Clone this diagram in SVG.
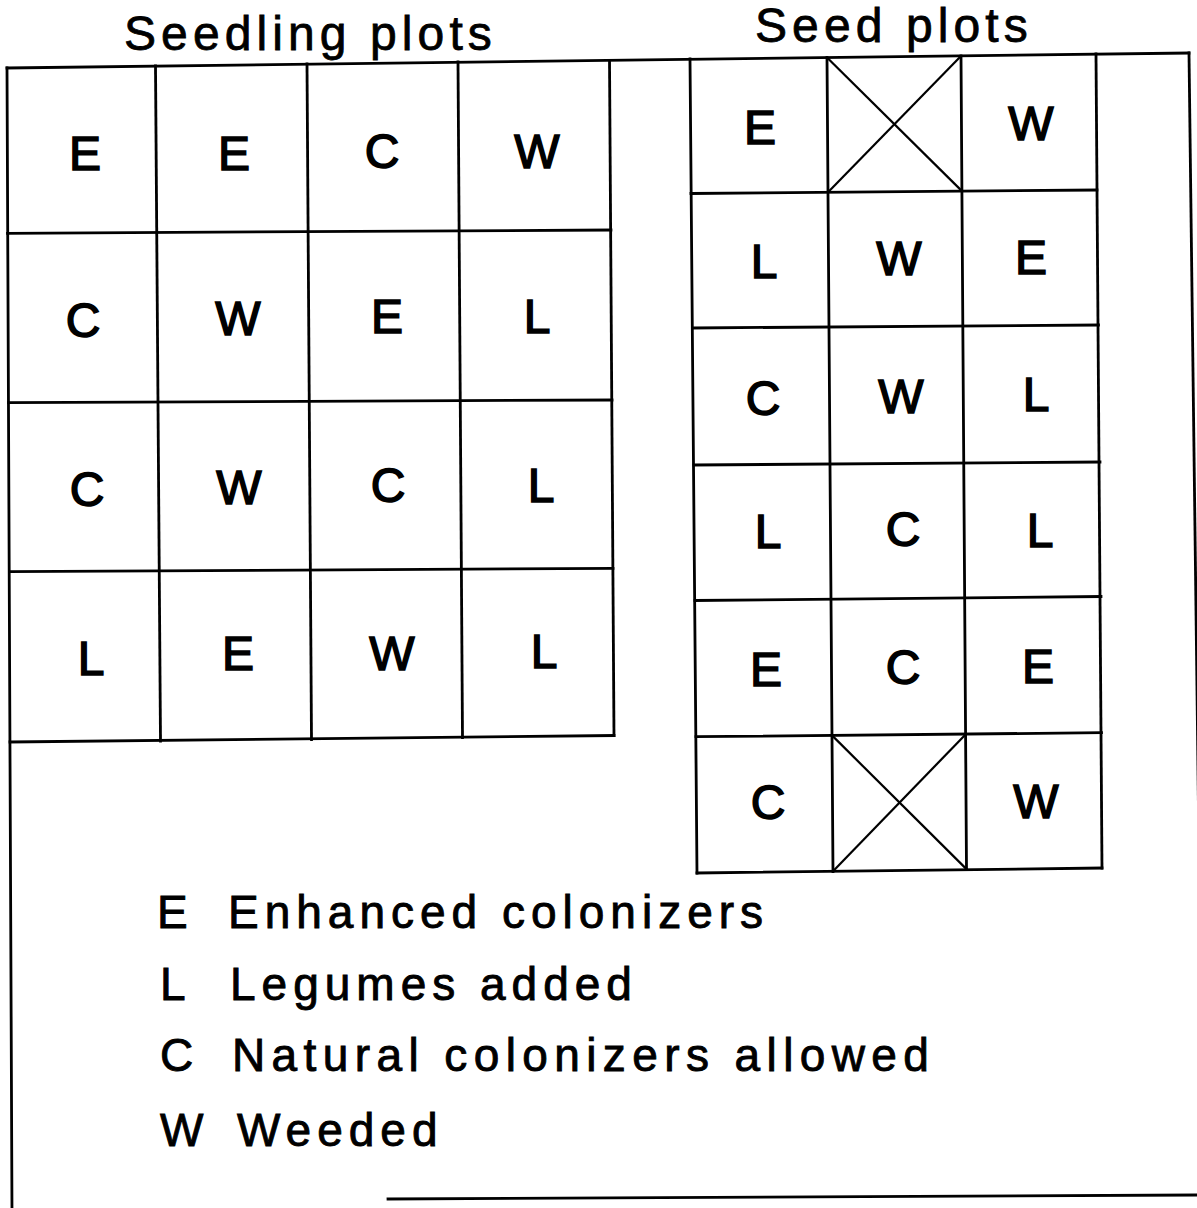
<svg xmlns="http://www.w3.org/2000/svg" width="1197" height="1208" viewBox="0 0 1197 1208">
<style>
.ln{stroke:#000;stroke-width:2.8;fill:none;stroke-linecap:square}
.dg{stroke:#000;stroke-width:2.2;fill:none}
.cell{font-family:"Liberation Sans",Arial,sans-serif;font-size:48px;fill:#000;stroke:#000;stroke-width:1.5;text-anchor:middle}
.ttl{font-family:"Liberation Sans",Arial,sans-serif;font-size:48px;fill:#000;stroke:#000;stroke-width:0.8;letter-spacing:5.1px}
.lg{font-family:"Liberation Sans",Arial,sans-serif;font-size:46px;fill:#000;stroke:#000;stroke-width:0.9;letter-spacing:6px}
.lk{font-family:"Liberation Sans",Arial,sans-serif;font-size:46px;fill:#000;stroke:#000;stroke-width:0.9}
</style>
<rect x="0" y="0" width="1197" height="1208" fill="#fff"/>
<g id="frame">
<line class="ln" x1="7" y1="68" x2="1189" y2="53"/>
<line class="ln" x1="7" y1="68" x2="12" y2="1212"/>
<line class="ln" x1="1189" y1="53" x2="1199" y2="850"/>
<line class="ln" x1="388" y1="1199" x2="1199" y2="1195"/>
</g>
<g id="seedling-grid">
<line class="ln" x1="7.5" y1="233.3" x2="611" y2="230"/>
<line class="ln" x1="8.5" y1="402.7" x2="612" y2="400"/>
<line class="ln" x1="9.5" y1="571.7" x2="613" y2="568.3"/>
<line class="ln" x1="10" y1="742" x2="614" y2="735.5"/>
<line class="ln" x1="155.5" y1="66" x2="160.5" y2="741"/>
<line class="ln" x1="307" y1="64" x2="311.5" y2="739.5"/>
<line class="ln" x1="458" y1="62" x2="462.5" y2="737.5"/>
<line class="ln" x1="609.5" y1="60.5" x2="614" y2="735.5"/>
</g>
<g id="seed-grid">
<line class="ln" x1="691" y1="193.5" x2="1097" y2="190"/>
<line class="ln" x1="692.5" y1="328" x2="1098.5" y2="325"/>
<line class="ln" x1="694" y1="465" x2="1100" y2="462"/>
<line class="ln" x1="695" y1="600.5" x2="1101" y2="596.5"/>
<line class="ln" x1="696" y1="736.7" x2="1101.5" y2="732.7"/>
<line class="ln" x1="697" y1="873" x2="1102" y2="868"/>
<line class="ln" x1="690" y1="59" x2="697" y2="873"/>
<line class="ln" x1="827" y1="57.5" x2="833" y2="871.5"/>
<line class="ln" x1="961" y1="56" x2="966.5" y2="869.5"/>
<line class="ln" x1="1096" y1="54" x2="1102" y2="868"/>
<line class="dg" x1="827" y1="57.5" x2="962" y2="191.1"/>
<line class="dg" x1="961" y1="56" x2="828" y2="192.3"/>
<line class="dg" x1="832" y1="735.4" x2="967" y2="869.6"/>
<line class="dg" x1="966" y1="734" x2="833" y2="871.3"/>
</g>
<g id="titles">
<text class="ttl" x="124" y="50">Seedling plots</text>
<text class="ttl" x="755" y="42">Seed plots</text>
</g>
<g id="seedling-labels">
<text class="cell" x="85" y="170">E</text>
<text class="cell" x="234" y="170">E</text>
<text class="cell" x="382" y="168">C</text>
<text class="cell" x="537" y="168">W</text>
<text class="cell" x="83" y="337">C</text>
<text class="cell" x="238" y="335">W</text>
<text class="cell" x="387" y="333">E</text>
<text class="cell" x="537" y="333">L</text>
<text class="cell" x="87" y="506">C</text>
<text class="cell" x="239" y="504">W</text>
<text class="cell" x="388" y="502">C</text>
<text class="cell" x="541" y="502">L</text>
<text class="cell" x="91" y="675">L</text>
<text class="cell" x="238" y="670">E</text>
<text class="cell" x="392" y="670">W</text>
<text class="cell" x="544" y="668">L</text>
</g>
<g id="seed-labels">
<text class="cell" x="760" y="144">E</text>
<text class="cell" x="1031" y="140">W</text>
<text class="cell" x="764" y="278">L</text>
<text class="cell" x="899" y="275">W</text>
<text class="cell" x="1031" y="274">E</text>
<text class="cell" x="763" y="415">C</text>
<text class="cell" x="901" y="413">W</text>
<text class="cell" x="1036" y="411">L</text>
<text class="cell" x="768" y="548">L</text>
<text class="cell" x="903" y="546">C</text>
<text class="cell" x="1040" y="547">L</text>
<text class="cell" x="766" y="686">E</text>
<text class="cell" x="903" y="684">C</text>
<text class="cell" x="1038" y="683">E</text>
<text class="cell" x="768" y="819">C</text>
<text class="cell" x="1036" y="818">W</text>
</g>
<g id="legend">
<text class="lk" x="157" y="928">E</text>
<text class="lg" x="228" y="928">Enhanced colonizers</text>
<text class="lk" x="160" y="1000">L</text>
<text class="lg" x="230" y="1000">Legumes added</text>
<text class="lk" x="160" y="1071">C</text>
<text class="lg" x="232" y="1071" style="letter-spacing:6.4px">Natural colonizers allowed</text>
<text class="lk" x="160" y="1146">W</text>
<text class="lg" x="237" y="1146">Weeded</text>
</g>
</svg>
